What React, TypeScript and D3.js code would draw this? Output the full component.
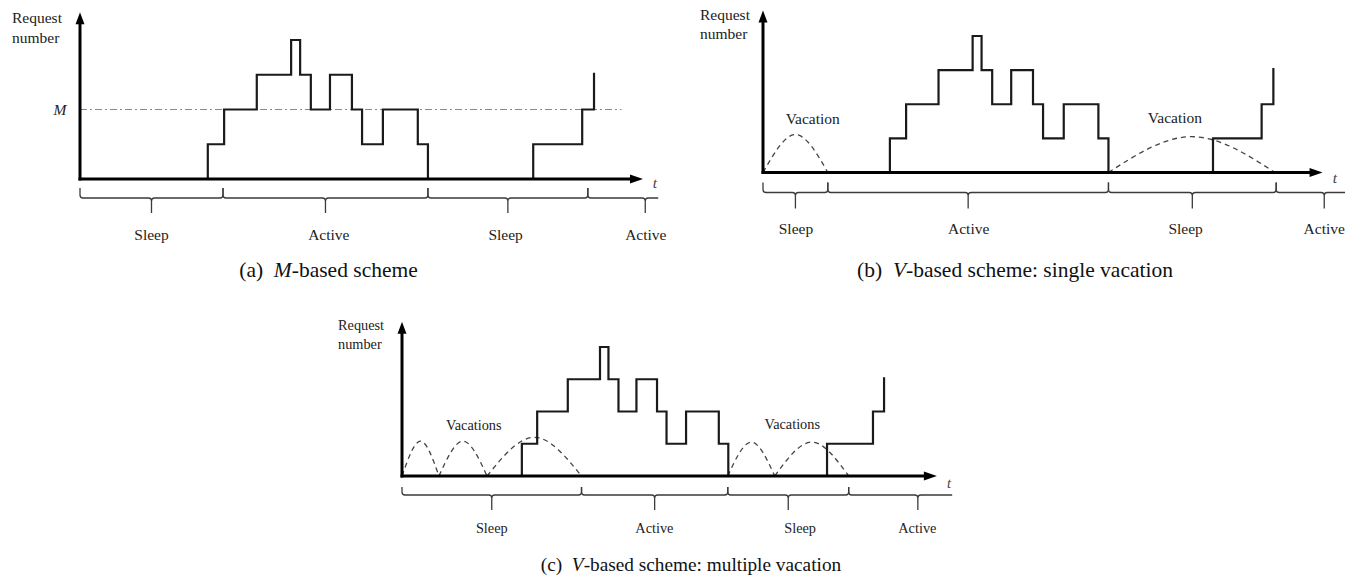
import React from 'react';
import * as d3 from 'd3';

// ---- data (time in arbitrary units 0..100 along the time axis, level = request number) ----
const stepTimes = [22.7, 22.7, 25.6, 31.4, 37.5, 39.1, 41.0, 44.4, 48.3, 50.1, 53.8, 60.0, 61.8];
const stepLevels = [0, 1, 2, 3, 4, 3, 2, 3, 2, 1, 2, 1, 0];
const tailTimes = [80.5, 80.5, 89.2, 91.3];
const tailLevels = [0, 1, 2, 3.06];
const thresholdM = 2;

const phaseNames = ['Sleep', 'Active', 'Sleep', 'Active'];
const boundsA = [0, 25.4, 61.8, 90.2, 110.6];
const boundsB = [0, 11.6, 61.8, 91.8, 109.0];
const boundsC = [0, 34.0, 61.7, 84.6, 110.8];
const labelPosA = [12.7, 44.2, 75.6, 100.5];
const labelPosB = [5.9, 36.8, 75.6, 100.4];
const labelPosC = [17.0, 47.8, 75.4, 97.6];

const vacStartB = [0, 61.8];
const vacEndB = [11.6, 91.6];
const vacPeakB = [1.11, 1.05];
const vacStartC = [0, 7.0, 16.1, 61.7, 70.6];
const vacEndC = [7.0, 16.1, 34.0, 70.6, 84.6];
const vacPeakC = [1.08, 1.08, 1.2, 1.05, 1.05];

const FONT = '"Liberation Serif", "Times New Roman", Times, serif';
const TXT = '#222';

type Cfg = {
  id: string;
  xr: [number, number];
  yr: [number, number];
  axisEnd: number;
  axisTop: number;
  clipEnd: number;
  bounds: number[];
  labelPos: number[];
  braceTop: number;
  braceLine: number;
  braceBot: number;
  labelY: number;
  reqX: number;
  reqY: [number, number];
  tPos: [number, number];
  fs: number;
  capFs: number;
  vac?: { s: number[]; e: number[]; p: number[]; label: string; lab: [number, number][] };
  showM?: boolean;
  mEnd?: number;
  caption: [string, string, string];
  capPos: [number, number];
};

const panels: Cfg[] = [
  {
    id: 'a', xr: [80, 643], yr: [179, 40], axisEnd: 100, axisTop: 4.8, clipEnd: 102.7,
    bounds: boundsA, labelPos: labelPosA, braceTop: 9, braceLine: 19, braceBot: 34, labelY: 240,
    reqX: 12, reqY: [23, 43], tPos: [655, 188], showM: true, mEnd: 96.2, fs: 15.5, capFs: 21.5,
    caption: ['(a)\u00A0 ', 'M', '-based scheme'], capPos: [328.5, 277],
  },
  {
    id: 'b', xr: [763, 1322], yr: [172.5, 36], axisEnd: 100.1, axisTop: 4.75, clipEnd: 104.5,
    bounds: boundsB, labelPos: labelPosB, braceTop: 10, braceLine: 20, braceBot: 36, labelY: 234,
    reqX: 700, reqY: [19.5, 38.5], tPos: [1335, 183], fs: 15.5, capFs: 21.5,
    vac: { s: vacStartB, e: vacEndB, p: vacPeakB, label: 'Vacation', lab: [[8.9, 1.58], [73.7, 1.6]] },
    caption: ['(b)\u00A0 ', 'V', '-based scheme: single vacation'], capPos: [1015, 277],
  },
  {
    id: 'c', xr: [402, 930], yr: [476, 347], axisEnd: 101.3, axisTop: 4.78, clipEnd: 104.2,
    bounds: boundsC, labelPos: labelPosC, braceTop: 11, braceLine: 19, braceBot: 34, labelY: 533,
    reqX: 338, reqY: [329.5, 348.5], tPos: [949, 488], fs: 14.3, capFs: 19.3,
    vac: { s: vacStartC, e: vacEndC, p: vacPeakC, label: 'Vacations', lab: [[13.6, 1.58], [73.9, 1.61]] },
    caption: ['(c)\u00A0 ', 'V', '-based scheme: multiple vacation'], capPos: [691, 571],
  },
];

function bracePath(x0: number, x1: number, xm: number, yT: number, yL: number, yB: number) {
  const p = d3.path();
  p.moveTo(x0, yT);
  p.lineTo(x0, yL - 3);
  p.quadraticCurveTo(x0, yL, x0 + 3, yL);
  p.lineTo(xm - 3, yL);
  p.quadraticCurveTo(xm, yL, xm, yL + 3);
  p.lineTo(xm, yB);
  p.moveTo(xm, yL + 3);
  p.quadraticCurveTo(xm, yL, xm + 3, yL);
  p.lineTo(x1 - 3, yL);
  p.quadraticCurveTo(x1, yL, x1, yL - 3);
  p.lineTo(x1, yT);
  return p.toString();
}

function Panel({ c }: { c: Cfg }) {
  const x = d3.scaleLinear().domain([0, 100]).range(c.xr);
  const y = d3.scaleLinear().domain([0, 4]).range(c.yr);
  const step = d3
    .line<[number, number]>()
    .x((d) => x(d[0]))
    .y((d) => y(d[1]))
    .curve(d3.curveStepAfter);
  const arc = d3
    .line<[number, number]>()
    .x((d) => x(d[0]))
    .y((d) => y(d[1]))
    .curve(d3.curveNatural);
  const main = stepTimes.map((t, i) => [t, stepLevels[i]] as [number, number]);
  const tail = tailTimes.map((t, i) => [t, tailLevels[i]] as [number, number]);
  const x0 = x(0);
  const y0 = y(0);
  const xe = x(c.axisEnd);
  const yt = y(c.axisTop);
  const clipId = `clip-${c.id}`;
  const ts = { fontFamily: FONT };
  return (
    <g>
      <defs>
        <clipPath id={clipId}>
          <rect x={x0 - 10} y={y0} width={x(c.clipEnd) - x0 + 10} height={80} />
        </clipPath>
      </defs>
      {/* request number label */}
      <text x={c.reqX} y={c.reqY[0]} fontSize={c.fs} fill={TXT} style={ts}>Request</text>
      <text x={c.reqX} y={c.reqY[1]} fontSize={c.fs} fill={TXT} style={ts}>number</text>
      {/* threshold M */}
      {c.showM && (
        <g>
          <line x1={x0} x2={x(c.mEnd!)} y1={y(thresholdM)} y2={y(thresholdM)} stroke="#8a8a8a" strokeWidth={1.1} strokeDasharray="7,3,2,3" />
          <text x={60} y={y(thresholdM) + 5} fontSize={c.fs} fontStyle="italic" textAnchor="middle" fill={TXT} style={ts}>M</text>
        </g>
      )}
      {/* vacations */}
      {c.vac &&
        c.vac.s.map((s, i) => {
          const e = c.vac!.e[i];
          const pts: [number, number][] = [[s, 0], [(s + e) / 2, c.vac!.p[i]], [e, 0]];
          return <path key={i} d={arc(pts) || ''} fill="none" stroke="#444" strokeWidth={1.3} strokeDasharray="5,4" />;
        })}
      {c.vac &&
        c.vac.lab.map((l, i) => (
          <text key={i} x={x(l[0])} y={y(l[1])} dy="0.32em" fontSize={c.fs} textAnchor="middle" fill={TXT} style={ts}>{c.vac!.label}</text>
        ))}
      {/* request steps */}
      <path d={step(main) || ''} fill="none" stroke="#1a1a1a" strokeWidth={2.2} strokeLinejoin="miter" />
      <path d={step(tail) || ''} fill="none" stroke="#1a1a1a" strokeWidth={2.2} strokeLinejoin="miter" />
      {/* axes */}
      <line x1={x0} x2={x0} y1={y0 + 1.5} y2={yt + 8} stroke="#000" strokeWidth={3} />
      <path d={`M${x0},${yt}L${x0 - 4.5},${yt + 12}L${x0 + 4.5},${yt + 12}Z`} fill="#000" />
      <line x1={x0 - 1.5} x2={xe - 8} y1={y0} y2={y0} stroke="#000" strokeWidth={3} />
      <path d={`M${xe},${y0}L${xe - 13},${y0 - 4.5}L${xe - 13},${y0 + 4.5}Z`} fill="#000" />
      <text x={c.tPos[0]} y={c.tPos[1]} fontSize={c.fs} fontStyle="italic" textAnchor="middle" fill="#444" style={ts}>t</text>
      {/* braces */}
      <g clipPath={`url(#${clipId})`}>
        {phaseNames.map((_, i) => {
          const a = c.bounds[i];
          const b = c.bounds[i + 1];
          return (
            <path
              key={i}
              d={bracePath(x(a), x(b), x((a + b) / 2), y0 + c.braceTop, y0 + c.braceLine, y0 + c.braceBot)}
              fill="none"
              stroke="#3a3a3a"
              strokeWidth={1.3}
            />
          );
        })}
      </g>
      {phaseNames.map((n, i) => (
        <text key={i} x={x(c.labelPos[i])} y={c.labelY} fontSize={c.fs} textAnchor="middle" fill={TXT} style={ts}>{n}</text>
      ))}
      {/* caption */}
      <text x={c.capPos[0]} y={c.capPos[1]} fontSize={c.capFs} textAnchor="middle" fill="#111" style={{ ...ts, whiteSpace: 'pre' }}>
        <tspan>{c.caption[0]}</tspan>
        <tspan fontStyle="italic">{c.caption[1]}</tspan>
        <tspan>{c.caption[2]}</tspan>
      </text>
    </g>
  );
}

export default function App() {
  return (
    <svg
      width={1345}
      height={584}
      viewBox="0 0 1345 584"
      style={{ position: 'absolute', left: 0, top: 0, background: '#fff' }}
    >
      <rect width={1345} height={584} fill="#fff" />
      {panels.map((p) => (
        <Panel key={p.id} c={p} />
      ))}
    </svg>
  );
}
